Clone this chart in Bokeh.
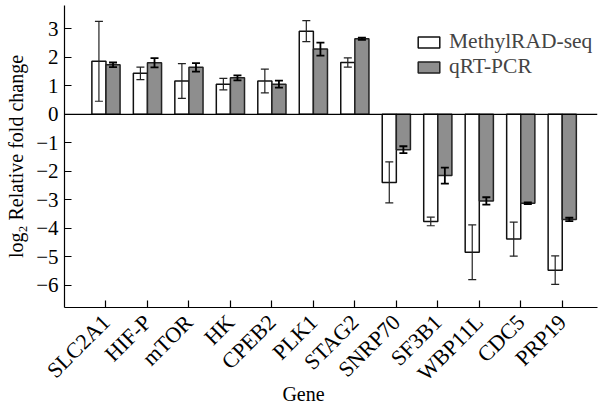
import math

from bokeh.embed import file_html
from bokeh.models import (ColumnDataSource, FixedTicker, Legend, LegendItem,
                          Range1d, Span, TeeHead, Whisker)
from bokeh.plotting import figure
from bokeh.resources import INLINE

# Genes and log2 relative fold changes (mean and error) per method
genes = ["SLC2A1", "HIF-P", "mTOR", "HK", "CPEB2", "PLK1", "STAG2",
         "SNRP70", "SF3B1", "WBP11L", "CDC5", "PRP19"]
methylrad = [1.86, 1.44, 1.17, 1.06, 1.17, 2.92, 1.82,
             -2.39, -3.76, -4.84, -4.38, -5.47]
methylrad_err = [1.40, 0.22, 0.61, 0.20, 0.42, 0.37, 0.16,
                 0.72, 0.15, 0.96, 0.60, 0.50]
qrtpcr = [1.74, 1.81, 1.65, 1.28, 1.06, 2.29, 2.65,
          -1.24, -2.15, -3.04, -3.12, -3.69]
qrtpcr_err = [0.08, 0.16, 0.15, 0.09, 0.12, 0.23, 0.04,
              0.12, 0.28, 0.13, 0.03, 0.06]
y_ticks = [-6, -5, -4, -3, -2, -1, 0, 1, 2, 3]

FONT = "Liberation Serif"
BAR_W = 0.34
X0, X1 = -1.0, 11.85
Y0, Y1 = -6.78, 3.82
pos = list(range(len(genes)))

src_m = ColumnDataSource(dict(
    x=[p - BAR_W / 2 for p in pos], top=methylrad,
    upper=[v + e for v, e in zip(methylrad, methylrad_err)],
    lower=[v - e for v, e in zip(methylrad, methylrad_err)]))
src_q = ColumnDataSource(dict(
    x=[p + BAR_W / 2 for p in pos], top=qrtpcr,
    upper=[v + e for v, e in zip(qrtpcr, qrtpcr_err)],
    lower=[v - e for v, e in zip(qrtpcr, qrtpcr_err)]))

p = figure(width=598, height=409, output_backend="svg", toolbar_location=None,
           x_range=Range1d(X0, X1), y_range=Range1d(Y0, Y1),
           min_border_left=64, min_border_right=1, min_border_top=5,
           min_border_bottom=102)
p.outline_line_color = None
p.xgrid.visible = False
p.ygrid.visible = False
p.background_fill_color = "white"
p.border_fill_color = "white"

r_m = p.vbar(x="x", top="top", bottom=0, width=BAR_W, source=src_m,
             fill_color="white", line_color="#111111", line_width=1.5)
r_q = p.vbar(x="x", top="top", bottom=0, width=BAR_W, source=src_q,
             fill_color="#8e8e8e", line_color="#222222", line_width=1.5)

# error bars drawn over the bars
for src, col, lw in ((src_m, "#222222", 1.2), (src_q, "#000000", 1.8)):
    w = Whisker(source=src, base="x", upper="upper", lower="lower",
                level="overlay", line_color=col, line_width=lw,
                upper_head=TeeHead(size=8, line_color=col, line_width=lw),
                lower_head=TeeHead(size=8, line_color=col, line_width=lw))
    p.add_layout(w)

p.add_layout(Span(location=0, dimension="width", line_color="black",
                  line_width=1.2))

# axes
p.xaxis.ticker = FixedTicker(ticks=pos)
p.xaxis.major_label_overrides = {i: g for i, g in enumerate(genes)}
p.xaxis.major_label_orientation = math.pi / 4
p.yaxis.ticker = FixedTicker(ticks=y_ticks)
p.yaxis.major_label_overrides = {t: (str(t).replace("-", "\u2212")) for t in y_ticks}

for ax in (p.xaxis, p.yaxis):
    ax.axis_line_color = "black"
    ax.axis_line_width = 1.2
    ax.major_tick_in = 7
    ax.major_tick_out = 0
    ax.major_tick_line_color = "black"
    ax.major_tick_line_width = 1.2
    ax.minor_tick_line_color = None
    ax.major_label_text_font = FONT
    ax.major_label_text_color = "black"
    ax.axis_label_text_font = FONT
    ax.axis_label_text_font_size = "20px"
    ax.axis_label_text_font_style = "normal"
    ax.axis_label_text_color = "black"

p.xaxis.major_label_text_font_size = "22px"
p.yaxis.major_label_text_font_size = "21px"
p.xaxis.major_label_standoff = 11
p.yaxis.major_label_standoff = 6
# trailing no-break spaces nudge the centred title a little to the left
p.xaxis.axis_label = "Gene" + "\u00a0" * 11
p.xaxis.axis_label_standoff = -14
p.yaxis.axis_label = "log\u2082 Relative fold change"
p.yaxis.axis_label_standoff = 6

legend = Legend(items=[LegendItem(label="MethylRAD-seq", renderers=[r_m]),
                       LegendItem(label="qRT-PCR", renderers=[r_q])],
                location=(351, 228), padding=0, spacing=0, margin=0,
                glyph_width=27, glyph_height=14, label_standoff=7,
                label_text_font=FONT, label_text_font_size="21.5px",
                label_height=23,
                border_line_color=None, background_fill_alpha=0)
p.add_layout(legend)

open("out.html", "w").write(file_html(p, INLINE))
